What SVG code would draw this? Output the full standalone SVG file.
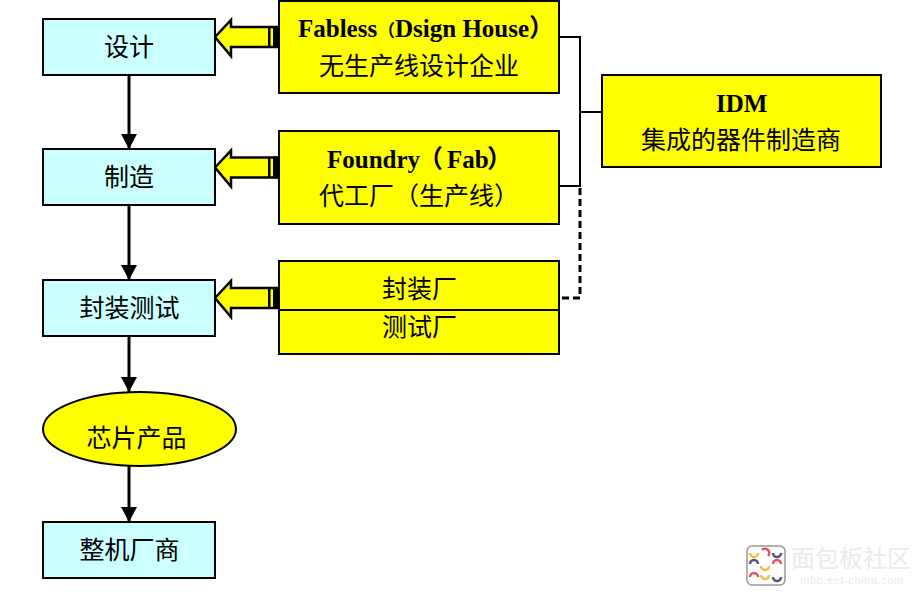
<svg xmlns="http://www.w3.org/2000/svg" width="924" height="597" viewBox="0 0 924 597">
<style>
text{font-family:"Liberation Serif","Noto Sans CJK SC",serif;text-anchor:middle;fill:#000}
.cn{font-family:"Noto Sans CJK SC",sans-serif;font-size:25px}
.en{font-size:25px;font-weight:bold;text-anchor:start}
.p{font-family:"Noto Sans CJK SC",sans-serif;font-size:25px;text-anchor:start}
.b{fill:#ccffff;stroke:#000;stroke-width:2}
.y{fill:#ffff00;stroke:#000;stroke-width:2}
.l{fill:none;stroke:#000;stroke-width:2}
.v{fill:none;stroke:#000;stroke-width:3}
.wm{fill:#ebebeb}
</style>
<defs>
<marker id="ah" markerUnits="userSpaceOnUse" markerWidth="16" markerHeight="16" refX="15" refY="8" orient="auto"><path d="M0 0L15 8L0 16Z" fill="#000"/></marker>
<g id="ba">
<path d="M215 37L231 20V27H279V47H231V56Z" fill="#ffff00" stroke="#000" stroke-width="2.500"/>
<path d="M268 27h2.500v20h-2.500zM273 26h6v22h-6z" fill="#000"/>
</g>
</defs>
<rect width="924" height="597" fill="#fff"/>
<g id="connectors">
<path class="v" d="M129 75V149" marker-end="url(#ah)"/>
<path class="v" d="M129 205V280" marker-end="url(#ah)"/>
<path class="v" d="M129 336V392" marker-end="url(#ah)"/>
<path class="v" d="M129 466V522" marker-end="url(#ah)"/>
<path class="l" d="M559 37H580V186H559M580 112H602"/>
<path class="v" d="M580 188V298H558" stroke-dasharray="7 4"/>
<use href="#ba"/>
<use href="#ba" y="130.500"/>
<use href="#ba" y="261"/>
</g>
<g id="n-design"><rect class="b" x="43" y="19" width="172" height="56"/><text class="cn" x="129" y="56">设计</text></g>
<g id="n-make"><rect class="b" x="43" y="149" width="172" height="56"/><text class="cn" x="129" y="186">制造</text></g>
<g id="n-test"><rect class="b" x="43" y="280" width="172" height="56"/><text class="cn" x="129.500" y="317">封装测试</text></g>
<g id="n-chip"><ellipse class="y" cx="139.500" cy="429" rx="96.500" ry="37"/><text class="cn" x="136.500" y="447">芯片产品</text></g>
<g id="n-oem"><rect class="b" x="43" y="522" width="172" height="56"/><text class="cn" x="129.500" y="559">整机厂商</text></g>
<g id="n-fabless"><rect class="y" x="279" y="1" width="280" height="92"/><text class="en" y="37"><tspan x="298">Fabless</tspan><tspan class="p" x="378" style="font-size:17px">（</tspan><tspan x="395">Dsign House</tspan><tspan class="p" x="529">）</tspan></text><text class="cn" x="419" y="75">无生产线设计企业</text></g>
<g id="n-foundry"><rect class="y" x="279" y="131" width="280" height="93"/><text class="en" y="168"><tspan x="327">Foundry</tspan><tspan class="p" x="418">（</tspan><tspan x="447">Fab</tspan><tspan class="p" x="487">）</tspan></text><text class="cn" x="419" y="205">代工厂（生产线）</text></g>
<g id="n-pack"><rect class="y" x="279" y="261" width="280" height="93"/><path class="l" d="M279 310H559"/><text class="cn" x="419.500" y="298">封装厂</text><text class="cn" x="419.500" y="336">测试厂</text></g>
<g id="n-idm"><rect class="y" x="602" y="75" width="279" height="92"/><text class="en" x="716" y="112">IDM</text><text class="cn" x="741" y="149">集成的器件制造商</text></g>
<g id="watermark">
<rect x="747" y="546" width="38" height="39" rx="5" fill="#fff" stroke="#999" stroke-width="1.500"/>
<g fill="none" stroke-width="2.500">
<path d="M750 553a4 4 0 0 0 8 0" stroke="#f0c040"/>
<path d="M762 550a4 4 0 0 1 6 6" stroke="#e05060"/>
<path d="M773 553a4 4 0 0 0 8 0" stroke="#505878"/>
<path d="M750 564a4 4 0 0 1 8 0" stroke="#505878"/>
<path d="M761 566a4 4 0 0 0 8 0" stroke="#f0c040"/>
<path d="M773 564a4 4 0 0 1 8 0" stroke="#e05060"/>
<path d="M750 577a4 4 0 0 1 8 0" stroke="#e05060"/>
<path d="M761 575a4 4 0 0 0 8 0" stroke="#f0c040"/>
<path d="M773 577a4 4 0 0 0 8 0" stroke="#505878"/>
</g>
<text class="wm" x="851" y="567" style="font-family:'Noto Sans CJK SC',sans-serif;font-size:24px">面包板社区</text>
<text class="wm" x="852" y="584" style="font-family:'Liberation Sans',sans-serif;font-size:11px;letter-spacing:.6px">mbb.eet-china.com</text>
</g>
</svg>
